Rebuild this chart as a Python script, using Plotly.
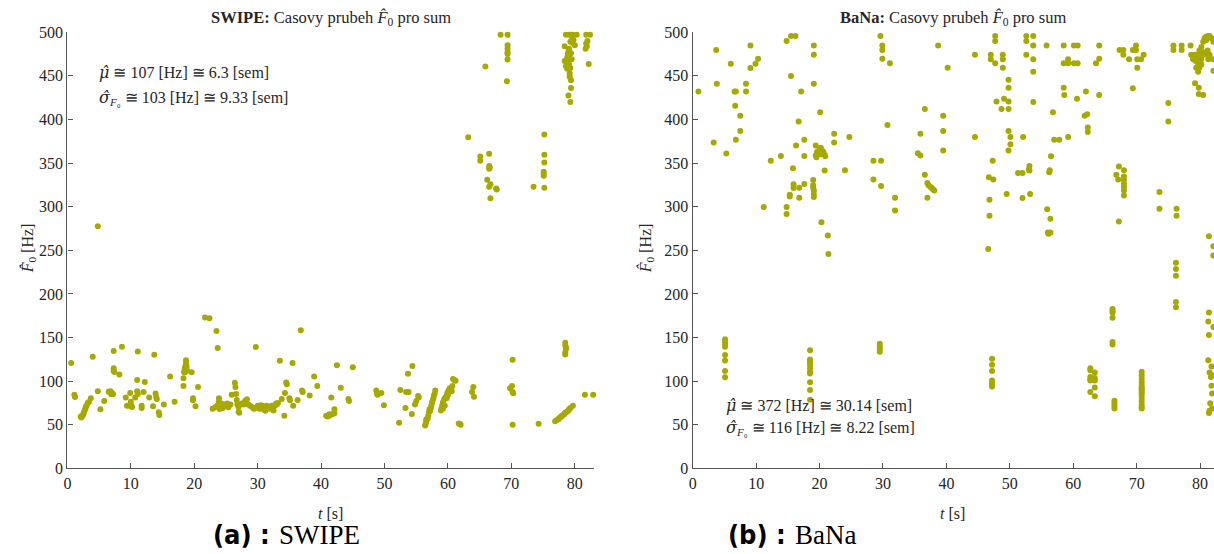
import plotly.graph_objects as go

# ---------------- data ----------------
# SWIPE estimates: time [s] and F0 [Hz]
swipe_t = [
    0.6, 1.1, 1.2, 2.1, 2.2, 2.4, 2.5, 2.6, 2.7, 2.8, 2.9, 3.0, 3.2, 3.4, 3.7,
    4.0, 4.8, 5.2, 5.8, 6.5, 6.8, 7.0, 7.2, 6.9, 7.3, 7.3, 7.3, 7.4, 8.2, 8.6,
    9.2, 9.4, 9.7, 9.9, 10.0, 10.1, 10.2, 10.7, 11.0, 11.0, 11.1, 11.1,
    11.7, 11.7, 12.0, 12.2, 12.9, 13.5, 13.7, 13.9, 14.0, 14.1, 14.4, 14.5,
    15.2, 16.2, 16.9, 18.3, 18.3, 18.4, 18.5, 18.6, 18.7, 18.7, 18.8, 18.5, 18.9,
    19.6, 19.8, 19.8, 20.2, 20.6, 21.7, 22.4, 23.5, 23.7,
    22.9, 23.3, 23.6, 23.9, 23.9, 24.2, 24.5, 24.8, 25.0, 25.2, 25.7, 25.9,
    24.0, 24.3, 24.6, 25.4, 23.8,
    26.4, 26.5, 26.6, 26.7, 26.8, 27.0, 27.1, 27.0,
    27.5, 27.8, 28.0, 28.3, 28.5, 28.8, 29.1, 29.4, 29.6, 29.7,
    30.0, 30.3, 30.5, 30.7, 30.9, 31.2, 31.4, 31.7, 31.9, 32.2, 32.4, 32.7, 32.9, 33.0, 32.5, 33.2,
    33.5, 33.8, 34.2, 34.5, 34.6, 34.3, 35.0, 35.1, 35.5, 35.6, 36.3, 36.8, 37.0, 37.1,
    38.2, 38.9, 39.4, 40.8, 41.0, 41.3,
    41.3, 41.4, 41.8, 42.1, 42.1, 41.6, 42.5, 43.1, 44.3, 44.4, 45.0,
    48.7, 48.8, 48.9, 49.5, 49.9,
    52.3, 52.5, 53.3, 53.4, 53.8, 53.7, 54.3, 54.4, 54.8, 55.0, 55.3, 55.4,
    56.4, 56.5, 56.6, 56.8, 56.9, 57.0, 57.1, 57.3, 57.4, 57.5, 57.7, 57.9, 58.0, 57.8, 57.6, 57.2, 56.6,
    58.9, 59.1, 59.2, 59.4, 59.6, 59.8, 59.9, 60.1, 60.3, 60.6, 60.8, 61.0, 61.2,
    59.2, 59.5, 59.0, 59.3, 59.8, 60.0, 60.2, 60.5, 60.7,
    61.7, 62.0, 61.9, 63.8, 64.0, 64.1,
    69.8, 70.1, 70.2, 70.3, 70.2, 70.2, 74.3,
    76.9, 77.2, 77.5, 77.7, 78.0, 78.3, 78.5, 78.8, 79.1, 79.3, 79.7, 77.4, 77.9, 78.4, 79.0,
    78.5, 78.5, 78.6, 78.5, 78.5, 78.6, 81.6, 82.9,
    4.8,
    63.2, 65.1, 65.1, 66.5, 66.5, 66.6, 66.5, 66.2, 66.5, 66.7, 67.6, 67.7, 66.7,
    73.5, 75.2, 75.2, 75.2, 75.1, 75.1, 75.1, 75.2,
    65.9, 68.3, 69.4, 69.4, 69.4, 69.4, 69.4, 69.4, 69.3,
    78.4, 78.4, 78.6, 78.6, 79.1, 79.5, 79.7, 80.3, 81.8, 82.4, 79.6, 79.3, 79.1, 78.9,
    78.8, 79.0, 79.1, 79.3, 79.2, 79.4, 79.4, 79.0, 79.3, 81.8, 81.7, 82.2, 79.1, 79.5,
    80.0, 79.0, 79.2, 78.9, 79.4, 79.6, 79.8, 78.8, 79.2, 82.0, 81.9,
]
swipe_f = [
    120.7, 84.5, 82.0, 59.6, 58.5, 60.4, 62.0, 63.7, 66.0, 67.7, 70.0, 71.7, 74.9, 76.0, 80.5,
    127.9, 88.6, 67.7, 77.3, 88.0, 88.6, 86.5, 85.3, 85.0, 134.7, 114.7, 111.8, 110.6, 107.8, 139.6,
    81.3, 71.7, 71.7, 86.5, 76.5, 71.7, 70.5, 81.3, 88.6, 101.4, 133.9, 85.3,
    71.7, 69.3, 87.7, 99.0, 81.3, 71.3, 130.3, 86.0, 82.0, 79.7, 64.5, 61.2,
    73.3, 105.4, 76.5, 94.6, 103.4, 110.6, 114.3, 117.5, 123.9, 120.7, 116.7, 110.0, 112.0,
    110.2, 80.5, 78.1, 71.3, 93.4, 172.9, 172.1, 157.6, 138.0,
    68.5, 70.1, 71.7, 80.5, 76.5, 71.7, 69.3, 73.3, 71.7, 74.5, 73.3, 84.5,
    68.0, 74.0, 72.0, 70.0, 73.0,
    98.2, 93.4, 85.3, 78.5, 73.3, 70.5, 63.7, 65.0,
    74.5, 73.3, 77.3, 79.3, 73.3, 71.7, 70.5, 68.5, 69.3, 139.2,
    71.7, 68.5, 72.5, 71.7, 67.7, 66.0, 71.7, 69.3, 68.5, 71.7, 68.5, 71.7, 74.5, 73.3, 66.5, 75.0,
    123.5, 79.7, 60.4, 98.6, 96.6, 86.5, 80.5, 78.1, 120.7, 71.7, 78.5, 158.4, 89.4, 87.7,
    83.7, 105.4, 94.6, 60.4, 59.6, 62.0,
    60.4, 61.2, 62.4, 67.7, 63.3, 81.3, 118.3, 92.6, 79.7, 77.3, 115.9,
    89.4, 86.5, 84.5, 86.5, 72.5,
    52.4, 89.8, 69.3, 87.7, 87.7, 108.6, 62.4, 117.5, 73.3, 77.3, 82.9, 81.3,
    49.2, 51.6, 54.4, 57.2, 60.4, 64.5, 67.7, 69.3, 72.5, 75.7, 80.5, 85.3, 89.4, 83.7, 78.0, 66.0, 56.4,
    66.5, 71.7, 75.7, 79.3, 81.3, 83.7, 86.5, 89.4, 91.8, 88.6, 102.6, 101.4, 100.6,
    68.5, 71.7, 69.3, 73.3, 80.5, 84.5, 87.7, 90.6, 94.6,
    51.6, 50.0, 50.8, 87.7, 93.4, 82.1,
    91.8, 94.6, 87.7, 86.1, 124.7, 50.0, 51.2,
    54.0, 55.6, 57.2, 58.8, 60.4, 62.0, 63.7, 65.3, 67.7, 69.3, 71.7, 56.4, 59.6, 62.8, 66.5,
    144.0, 140.8, 138.8, 132.7, 130.7, 136.7, 84.5, 84.5,
    277.6,
    379.6, 357.6, 352.8, 360.8, 346.8, 344.8, 343.6, 330.8, 322.8, 325.6, 320.8, 319.6, 309.6,
    322.8, 382.8, 359.6, 350.8, 340.0, 338.0, 335.6, 321.6,
    460.7, 497.0, 497.0, 485.0, 481.0, 477.0, 475.0, 468.8, 443.7,
    484.0, 467.0, 461.0, 497.0, 497.0, 497.0, 497.0, 497.0, 497.0, 497.0, 493.0, 489.0, 481.0, 475.0,
    471.0, 467.0, 463.0, 459.0, 453.0, 445.0, 436.0, 427.5, 420.0, 487.0, 481.0, 463.6, 473.0, 469.0,
    485.0, 478.0, 470.0, 465.0, 476.0, 488.0, 491.0, 458.0, 449.0, 490.0, 484.0,
]

# BaNa estimates: time [s] and F0 [Hz]
bana_t = [
    0.9, 3.3, 3.7, 3.8, 5.3, 6.0, 6.6, 6.8, 6.7, 6.8, 7.5, 7.5, 8.4, 8.4, 9.1, 9.1, 9.9, 10.3,
    11.2, 12.3, 13.9, 14.8, 15.5, 16.2, 15.5, 14.8, 14.8, 15.3, 15.3, 15.8, 15.9, 15.9, 16.3,
    16.7, 16.8, 16.8, 17.1, 17.6, 17.6, 17.6,
    19.1, 19.1, 19.1, 19.0, 19.0, 19.0, 19.1, 19.1, 19.1,
    19.4, 19.4, 19.5, 19.8, 20.0, 20.2, 20.4, 20.6, 20.8, 20.9, 19.6, 20.2,
    20.1, 20.3, 20.8, 21.3, 21.4, 22.3, 22.3, 24.0, 24.7, 28.5, 29.7, 28.5, 29.7,
    29.6, 29.9, 29.9, 29.9, 30.7, 31.1, 31.9, 31.9,
    35.5, 35.9, 35.9, 36.6, 36.6, 37.0, 37.2, 37.5, 37.7, 37.9, 38.1, 37.0, 38.7,
    39.5, 39.5, 39.5, 40.2,
    44.5, 44.5, 46.6, 46.7, 47.4, 46.8, 46.8, 47.0, 47.0, 47.7, 47.3, 47.7, 47.7, 47.9,
    48.7, 48.9, 48.9, 48.9, 49.1, 49.8, 49.8, 49.8, 49.8, 49.8, 50.1, 50.1, 49.8, 49.5,
    51.3, 52.0, 52.0, 52.1, 52.6, 52.6, 52.6, 53.1, 53.1, 53.0, 53.2, 53.7, 53.7, 53.7, 53.7, 53.7,
    55.8, 55.9, 56.4, 56.0, 56.4, 56.1, 56.2, 56.3, 56.5, 56.8, 57.0, 57.8,
    58.5, 58.5, 58.6, 58.5, 59.2, 59.2, 59.2, 60.1, 60.7, 60.1, 60.7, 60.6,
    62.0, 61.8, 62.2, 62.3, 62.3, 63.6, 64.1, 64.1, 64.1,
    67.3, 67.9, 67.9, 68.8, 69.4, 69.9, 69.9, 70.1, 70.7, 71.1, 70.1, 69.4,
    67.2, 68.0, 66.8, 67.1, 68.0, 68.0, 68.0, 68.0, 68.0, 68.0, 67.2,
    73.6, 73.6, 75.0, 75.0, 75.8, 75.8, 77.1, 77.1, 76.3, 76.3,
    76.2, 76.2, 76.2, 76.2, 76.2, 78.5,
    79.2, 78.9, 79.4, 79.7, 79.9, 80.2, 80.5, 80.7, 81.0, 81.3, 81.5, 81.8, 82.1,
    80.7, 81.2, 81.5, 80.2, 79.7, 79.4, 79.9, 79.7, 79.2, 79.8, 79.8, 80.5, 81.3,
    82.1, 82.1, 78.9, 79.3, 80.1, 80.5, 81.0, 78.6, 79.6, 80.2,
    81.4, 82.1, 82.1,
    5.1, 5.1, 5.1, 5.1, 5.1, 5.1, 5.1, 5.1,
    18.5, 18.5, 18.5, 18.5, 18.5, 18.5, 18.5, 18.5, 18.5, 18.5, 18.5,
    29.5, 29.5, 29.5, 29.5,
    47.2, 47.2, 47.2, 47.2, 47.2, 47.2, 47.2,
    62.7, 62.7, 62.7, 62.7, 62.7, 62.7,
    63.4, 63.4, 63.4, 63.4, 63.4,
    66.2, 66.2, 66.2, 66.2, 66.2, 66.2,
    66.5, 66.5, 66.5, 66.5,
    70.8, 70.8, 70.8, 70.8, 70.8, 70.8, 70.8, 70.8, 70.8, 70.8, 70.8, 70.8, 70.8, 70.8, 70.8,
    81.4, 81.3, 81.4, 82.1, 81.3, 81.8, 81.5, 81.9, 81.7, 81.8, 81.9, 81.6, 81.9, 81.5, 81.4,
]
bana_f = [
    432.0, 373.5, 479.5, 441.0, 361.0, 464.0, 432.0, 432.0, 415.7, 376.7, 404.4, 386.7, 441.0, 432.0, 484.7, 459.0, 464.0, 469.5,
    299.6, 352.6, 358.2, 490.0, 495.6, 495.6, 449.8, 299.6, 291.6, 313.7, 311.6, 344.2, 321.3, 325.7, 370.3,
    397.6, 310.4, 321.7, 432.0, 326.0, 376.7, 358.2,
    484.7, 474.3, 441.0, 330.5, 324.5, 321.7, 318.5, 314.5, 311.2,
    370.3, 358.6, 356.6, 360.6, 365.9, 367.5, 364.3, 362.7, 359.5, 357.8, 362.7, 360.2,
    408.4, 282.3, 341.4, 267.0, 245.8, 383.5, 373.5, 341.8, 379.9, 352.6, 352.6, 331.3, 323.7,
    495.6, 484.7, 479.5, 469.5, 393.6, 464.3, 310.4, 295.6,
    361.4, 358.6, 383.5, 412.0, 336.5, 327.3, 324.5, 322.5, 321.3, 319.7, 318.5, 310.4, 484.7,
    404.4, 386.7, 364.3, 459.4,
    474.3, 379.9, 251.4, 333.7, 331.3, 308.0, 289.6, 474.3, 469.1, 464.3, 352.6, 495.6, 490.0, 420.5,
    412.0, 474.3, 469.1, 459.4, 423.7, 445.4, 436.5, 420.5, 412.0, 386.7, 380.0, 371.5, 364.3, 314.5,
    338.6, 338.6, 310.0, 380.0, 495.6, 490.0, 474.3, 346.6, 341.4, 342.6, 314.5, 495.6, 484.7, 469.1, 454.6, 420.0,
    484.7, 297.2, 286.3, 270.3, 270.3, 269.0, 339.4, 341.8, 357.8, 408.4, 376.7, 376.7,
    484.7, 436.5, 428.1, 464.3, 469.1, 464.3, 380.0, 484.7, 484.7, 464.3, 464.3, 423.7,
    432.0, 404.4, 406.0, 390.8, 385.5, 464.3, 469.5, 484.7, 428.1,
    479.5, 474.3, 479.5, 469.1, 479.5, 484.7, 479.5, 469.1, 469.1, 474.3, 459.4, 435.7,
    346.2, 341.8, 336.5, 331.3, 334.6, 330.5, 326.5, 322.5, 318.5, 312.8, 283.1,
    316.9, 297.6, 418.9, 397.6, 484.7, 479.5, 484.7, 479.5, 297.6, 289.6,
    235.7, 228.5, 220.9, 190.8, 184.8, 484.7,
    474.3, 469.1, 471.0, 474.3, 479.1, 483.1, 489.2, 493.2, 495.2, 495.6, 495.6, 493.2, 489.2,
    474.3, 479.1, 474.3, 469.1, 464.3, 459.4, 459.4, 454.6, 441.4, 436.5, 429.3, 428.1, 469.1,
    455.8, 469.1, 473.0, 467.0, 472.0, 477.0, 491.0, 474.3, 469.0, 463.0,
    266.0, 254.6, 244.2,
    148.0, 145.6, 142.8, 139.6, 130.0, 123.6, 111.6, 104.4,
    135.6, 124.8, 122.8, 120.8, 118.8, 114.8, 110.8, 108.8, 98.8, 90.0, 78.8,
    142.8, 139.6, 136.8, 133.6,
    125.6, 118.8, 111.6, 100.8, 98.0, 95.6, 94.0,
    114.8, 112.4, 104.8, 102.0, 100.8, 87.6,
    110.0, 103.6, 100.8, 92.8, 82.8,
    182.8, 180.8, 178.8, 172.8, 144.8, 142.0,
    77.6, 74.8, 71.6, 68.8,
    110.8, 106.8, 102.8, 98.8, 94.8, 92.8, 90.8, 88.8, 86.8, 84.8, 80.8, 76.8, 72.8, 70.8, 68.8,
    178.8, 168.4, 152.8, 162.0, 124.0, 116.8, 110.0, 106.8, 104.8, 94.8, 86.0, 74.8, 68.8, 66.0, 63.6,
]

x_ticks = [0, 10, 20, 30, 40, 50, 60, 70, 80]
y_ticks = [0, 50, 100, 150, 200, 250, 300, 350, 400, 450, 500]

# ---------------- style ----------------
W, H = 1214, 554
MARK = "rgb(166,170,0)"
SERIF = "Liberation Serif, DejaVu Serif, serif"
SANS = "DejaVu Sans Condensed, DejaVu Sans, sans-serif"
AXC = "#555555"
TXT = "#262626"

# hatted Greek symbols, set in a face that positions combining accents well
MU_HAT = '<span style="font-family:DejaVu Serif;font-style:italic">μ̂</span>'
SIGMA_HAT = '<span style="font-family:DejaVu Serif;font-style:italic">σ̂</span>'


def px(x):
    return x / W


def py(y):
    return 1 - y / H


fig = go.Figure()
fig.add_trace(go.Scatter(x=swipe_t, y=swipe_f, mode="markers", xaxis="x", yaxis="y",
                         marker=dict(size=6, color=MARK), cliponaxis=False, showlegend=False))
fig.add_trace(go.Scatter(x=bana_t, y=bana_f, mode="markers", xaxis="x2", yaxis="y2",
                         marker=dict(size=6, color=MARK), cliponaxis=False, showlegend=False))

ydom = [py(475), py(25)]
axis_common = dict(showline=True, linecolor=AXC, linewidth=1.3, ticks="inside", ticklen=5,
                   tickcolor=AXC, tickwidth=1, showgrid=False, zeroline=False,
                   tickfont=dict(family=SERIF, size=16, color=TXT))

fig.update_layout(
    width=W, height=H,
    margin=dict(l=0, r=0, t=0, b=0),
    paper_bgcolor="white", plot_bgcolor="white",
    xaxis=dict(domain=[px(63.6), px(592.4)], range=[0, 83.1], tickvals=x_ticks,
               anchor="y", **axis_common),
    yaxis=dict(domain=ydom, range=[0, 500], tickvals=y_ticks, anchor="x", **axis_common),
    xaxis2=dict(domain=[px(691), 1.0], range=[0, 82.2], tickvals=x_ticks,
                anchor="y2", **axis_common),
    yaxis2=dict(domain=ydom, range=[0, 500], tickvals=y_ticks, anchor="x2", **axis_common),
)

ann = []
# panel titles
ann.append(dict(x=px(328), y=py(10), size=16.5,
                text="<b>SWIPE:</b> Casovy prubeh <i>F̂</i><sub>0</sub> pro sum"))
ann.append(dict(x=px(952), y=py(10), size=16.5,
                text="<b>BaNa:</b> Casovy prubeh <i>F̂</i><sub>0</sub> pro sum"))
# axis titles
for cx in (328, 952):
    ann.append(dict(x=px(cx), y=py(521), text="<i>t</i> [s]"))
for cx in (25, 645):
    ann.append(dict(x=px(cx), y=py(248), text="<i>F̂</i><sub>0</sub> [Hz]", textangle=-90))
# statistics
stats = [
    (93, 67, MU_HAT + " ≅ 107 [Hz] ≅ 6.3 [sem]"),
    (93, 93, SIGMA_HAT + "<sub><i>F</i>₀</sub> ≅ 103 [Hz] ≅ 9.33 [sem]"),
    (722, 410, MU_HAT + " ≅ 372 [Hz] ≅ 30.14 [sem]"),
    (722, 433, SIGMA_HAT + "<sub><i>F</i>₀</sub> ≅ 116 [Hz] ≅ 8.22 [sem]"),
]
for x0, y0, t in stats:
    ann.append(dict(x=px(x0), y=py(y0), text=t, xanchor="left"))

for a in ann:
    a.setdefault("xanchor", "center")
    size = a.pop("size", 16)
    a.update(xref="paper", yref="paper", yanchor="middle", showarrow=False,
             font=dict(family=SERIF, size=size, color=TXT))

# sub-figure captions
captions = [(269, "(a) :", "SWIPE"), (787, "(b) :", "BaNa")]
for x0, lab, name in captions:
    ann.append(dict(x=px(x0), y=py(543), text="<b>" + lab + "</b>", xanchor="right",
                    xref="paper", yref="paper", yanchor="middle", showarrow=False,
                    font=dict(family=SANS, size=27, color="black")))
    ann.append(dict(x=px(x0 + 5), y=py(544), text=name, xanchor="left",
                    xref="paper", yref="paper", yanchor="middle", showarrow=False,
                    font=dict(family=SERIF, size=27, color="black")))

fig.update_layout(annotations=ann)
fig.write_html("out.html")
